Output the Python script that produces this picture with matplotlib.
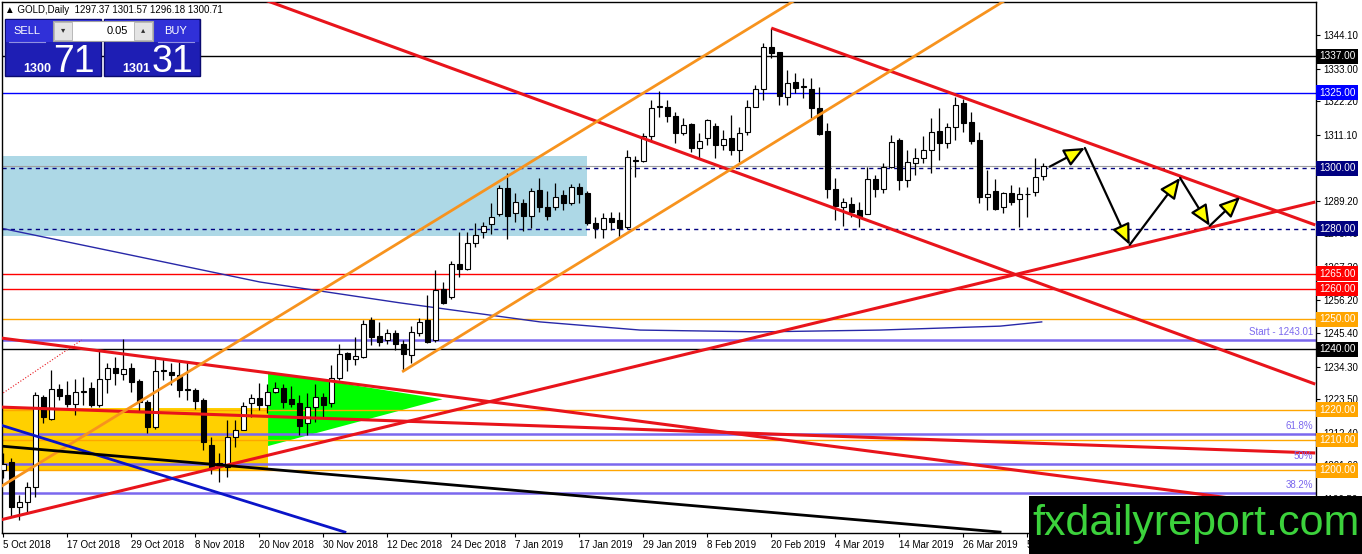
import matplotlib
matplotlib.use('Agg')
import matplotlib.pyplot as plt
import matplotlib.transforms as mtransforms
from matplotlib.patches import Rectangle, Polygon, FancyArrowPatch
import numpy as np
import pandas as pd

plt.rcParams['font.family'] = ['Liberation Sans', 'DejaVu Sans']

# ---- daily OHLC, GOLD, 5 Oct 2018 .. 9 Apr 2019 ----
opens = [1200.0, 1202.6, 1187.9, 1189.6, 1194.5, 1224.3, 1216.9, 1226.9, 1224.9, 1221.9,
         1226.0, 1227.1, 1221.6, 1230.1, 1234.0, 1231.8, 1234.0, 1229.5, 1222.7, 1214.4,
         1232.9, 1232.6, 1231.5, 1226.7, 1226.5, 1223.2, 1208.3, 1202.0, 1201.1, 1211.1,
         1213.3, 1222.3, 1223.8, 1221.6, 1225.8, 1227.1, 1223.6, 1222.1, 1215.5, 1220.8,
         1224.1, 1222.3, 1230.4, 1238.7, 1236.8, 1237.6, 1249.7, 1244.4, 1243.1, 1245.3,
         1241.7, 1238.0, 1245.3, 1249.7, 1243.1, 1259.9, 1257.2, 1268.2, 1266.6, 1275.1,
         1278.8, 1281.4, 1284.7, 1293.3, 1285.0, 1288.4, 1284.3, 1292.8, 1287.1, 1287.3,
         1291.1, 1288.6, 1293.7, 1291.9, 1281.8, 1279.9, 1283.6, 1282.9, 1280.4, 1302.4,
         1302.4, 1310.5, 1320.4, 1320.4, 1317.4, 1311.6, 1314.5, 1306.6, 1309.9, 1314.0,
         1307.7, 1310.0, 1306.1, 1311.9, 1320.4, 1326.1, 1340.0, 1338.4, 1323.5, 1328.5,
         1327.0, 1326.1, 1319.8, 1312.3, 1293.0, 1287.0, 1288.0, 1286.1, 1284.7, 1296.3,
         1293.0, 1300.3, 1309.3, 1296.1, 1301.7, 1303.3, 1306.0, 1312.3, 1308.4, 1313.7,
         1321.7, 1315.4, 1309.3, 1290.4, 1292.4, 1287.3, 1291.7, 1289.7, 1291.5, 1292.2,
         1297.37]
highs = [1205.6, 1203.9, 1191.8, 1196.2, 1226.0, 1224.9, 1233.2, 1228.7, 1229.5, 1230.1,
         1231.0, 1229.3, 1239.8, 1235.4, 1237.6, 1243.3, 1235.4, 1230.1, 1223.2, 1237.6,
         1237.0, 1235.4, 1235.9, 1235.9, 1227.1, 1223.8, 1211.1, 1205.6, 1216.6, 1216.6,
         1222.7, 1225.2, 1229.0, 1228.7, 1229.3, 1228.5, 1228.0, 1224.9, 1225.4, 1228.7,
         1225.4, 1234.8, 1241.7, 1239.2, 1244.2, 1249.7, 1250.8, 1249.2, 1246.9, 1246.4,
         1243.1, 1247.8, 1250.3, 1258.0, 1266.3, 1262.4, 1269.3, 1279.0, 1279.0, 1281.7,
         1282.1, 1288.4, 1294.4, 1298.3, 1291.7, 1289.7, 1293.3, 1296.7, 1292.3, 1295.0,
         1292.8, 1294.8, 1295.0, 1292.3, 1283.9, 1285.3, 1285.6, 1285.6, 1306.0, 1304.1,
         1311.6, 1322.6, 1325.7, 1322.6, 1318.7, 1316.5, 1314.9, 1311.6, 1316.2, 1314.9,
         1312.7, 1317.6, 1313.8, 1322.6, 1327.6, 1341.4, 1346.3, 1338.6, 1332.5, 1331.4,
         1329.8, 1330.0, 1327.0, 1314.9, 1296.6, 1290.0, 1290.6, 1288.9, 1300.3, 1297.7,
         1301.8, 1311.0, 1309.9, 1306.0, 1306.6, 1310.7, 1316.5, 1319.8, 1315.1, 1323.7,
         1322.8, 1318.7, 1312.1, 1299.4, 1296.3, 1292.2, 1294.4, 1293.9, 1293.7, 1303.3,
         1301.57]
lows = [1197.3, 1184.6, 1183.5, 1186.2, 1191.2, 1215.7, 1216.6, 1223.2, 1221.0, 1218.3,
        1221.6, 1221.0, 1221.0, 1225.4, 1228.2, 1229.8, 1226.0, 1219.4, 1212.2, 1213.8,
        1229.8, 1228.2, 1224.3, 1223.2, 1220.1, 1206.7, 1198.9, 1196.2, 1197.8, 1207.8,
        1213.3, 1217.5, 1219.9, 1219.0, 1225.5, 1220.5, 1221.0, 1211.5, 1211.8, 1216.0,
        1217.7, 1221.0, 1230.0, 1232.9, 1234.8, 1237.0, 1241.4, 1241.2, 1241.7, 1239.8,
        1232.9, 1235.6, 1244.5, 1242.0, 1242.5, 1255.0, 1256.6, 1263.9, 1266.3, 1274.0,
        1277.0, 1278.2, 1284.3, 1276.4, 1282.3, 1279.2, 1280.1, 1285.6, 1282.9, 1286.2,
        1286.2, 1287.8, 1288.4, 1281.2, 1276.8, 1276.8, 1279.6, 1276.8, 1279.8, 1297.2,
        1302.2, 1308.8, 1317.1, 1315.4, 1308.3, 1311.0, 1305.3, 1303.3, 1307.7, 1303.3,
        1306.0, 1304.4, 1301.9, 1311.0, 1320.2, 1322.6, 1336.4, 1321.0, 1321.0, 1324.8,
        1323.2, 1316.5, 1311.0, 1290.0, 1282.8, 1281.0, 1283.9, 1280.6, 1284.7, 1290.4,
        1291.7, 1300.0, 1292.8, 1293.7, 1297.7, 1301.8, 1298.3, 1302.7, 1306.6, 1309.3,
        1312.1, 1307.9, 1288.4, 1286.2, 1286.2, 1285.1, 1287.8, 1280.6, 1284.0, 1290.8,
        1296.18]
closes = [1202.2, 1187.9, 1189.6, 1194.5, 1224.9, 1217.7, 1226.8, 1224.7, 1221.9, 1225.9,
          1226.2, 1221.6, 1230.1, 1234.0, 1232.1, 1233.4, 1229.1, 1222.7, 1214.4, 1232.9,
          1233.2, 1231.5, 1226.5, 1226.9, 1223.0, 1209.4, 1200.6, 1202.3, 1210.9, 1213.3,
          1221.2, 1223.8, 1221.6, 1225.8, 1227.1, 1222.7, 1221.9, 1214.5, 1220.8, 1224.1,
          1221.6, 1230.4, 1238.4, 1236.8, 1237.8, 1248.4, 1244.2, 1242.5, 1245.3, 1241.7,
          1238.4, 1245.6, 1249.2, 1242.5, 1259.7, 1255.5, 1268.2, 1266.6, 1275.3, 1277.9,
          1281.0, 1283.9, 1293.3, 1284.3, 1288.7, 1284.3, 1292.4, 1287.3, 1284.3, 1290.6,
          1288.4, 1293.7, 1291.4, 1281.8, 1280.1, 1283.4, 1282.3, 1280.1, 1303.8, 1302.6,
          1310.5, 1319.8, 1320.6, 1317.4, 1311.6, 1314.3, 1306.6, 1309.1, 1316.0, 1307.7,
          1309.6, 1306.1, 1311.6, 1320.2, 1326.1, 1340.0, 1338.3, 1323.9, 1328.1, 1326.5,
          1327.2, 1319.8, 1311.2, 1293.0, 1287.5, 1288.9, 1285.6, 1283.7, 1296.3, 1293.0,
          1300.5, 1308.8, 1296.1, 1302.2, 1303.3, 1306.0, 1312.1, 1308.4, 1313.7, 1320.9,
          1315.1, 1309.0, 1290.4, 1291.5, 1286.5, 1291.7, 1288.9, 1291.3, 1291.6, 1297.2,
          1300.71]

# trading days (broker has no bar on 25 Dec and 1 Jan)
days = pd.bdate_range('2018-10-05', '2019-04-09')
days = [d for d in days if (d.month, d.day) not in [(12, 25), (1, 1)]]

# horizontal levels with price tags
levels = [1337.00, 1325.00, 1300.00, 1280.00, 1265.00, 1260.00, 1250.00, 1240.00, 1220.00, 1210.00, 1200.00]
level_colors = ['#000000', '#0000FF', '#000080', '#000080', '#FF0000', '#FF0000',
                '#FFA500', '#000000', '#FFA500', '#FFA500', '#FFA500']
level_styles = ['-', '-', '--', '--', '-', '-', '-', '-', '-', '-', '-']

fib_names = ['61.8%', '50%', '38.2%']
fib_prices = [1212.0, 1202.2, 1192.3]
start_price = 1243.01
bid = 1300.71

yticks = [1344.10, 1333.00, 1322.20, 1311.10, 1300.00, 1289.20, 1278.40, 1267.30,
          1256.20, 1245.40, 1234.30, 1223.50, 1212.40, 1201.60, 1190.50]

# trendlines: (bar0, price0, bar1, price1)
red_lines = [(32.7, 1355.7, 164.0, 1228.5),
             (96.0, 1346.4, 164.0, 1281.2),
             (-0.4, 1183.5, 164.0, 1288.8),
             (-0.4, 1243.8, 164.0, 1187.1),
             (-0.4, 1220.9, 164.0, 1205.7)]
orange_lines = [(-0.4, 1194.4, 99.0, 1355.7),
                (50.0, 1232.8, 125.3, 1355.7)]
blue_line = (-0.4, 1215.0, 42.7, 1179.5)
black_line = (-0.4, 1208.0, 124.6, 1179.5)
dotted_line = (0.0, 1225.6, 9.8, 1243.1)

# slow moving average (sampled)
ma_bars = [-0.4, 15.8, 32.1, 49.6, 67.1, 79.6, 94.6, 109.6, 124.6, 129.8]
ma_vals = [1280.2, 1271.3, 1262.3, 1255.4, 1249.1, 1246.4, 1245.8, 1246.4, 1247.7, 1249.1]

# zones
blue_zone = (-1.0, 72.96, 1277.7, 1304.0)
yellow_zone = (-1.0, 33.1, 1199.7, 1220.7)
green_tri_bars = [33.1, 33.1, 54.9]
green_tri_prices = [1232.6, 1208.0, 1223.5]

# projected path
path_bars = [130.8, 135.2, 140.8, 147.1, 150.8, 154.6]
path_prices = [1300.5, 1306.7, 1274.6, 1296.8, 1280.9, 1290.5]

W, H = 1362, 554
fig = plt.figure(figsize=(W / 100, H / 100), dpi=100)
ax = fig.add_axes([2 / W, (H - 533) / H, 1314 / W, 531 / H])
ax.set_xlim(-0.16, 164.09)
ax.set_ylim(1179.2, 1355.03)

# zones
ax.add_patch(Rectangle((blue_zone[0], blue_zone[2]), blue_zone[1] - blue_zone[0],
                       blue_zone[3] - blue_zone[2], fc='#ADD8E6', ec='none', zorder=1))
ax.add_patch(Rectangle((yellow_zone[0], yellow_zone[2]), yellow_zone[1] - yellow_zone[0],
                       yellow_zone[3] - yellow_zone[2], fc='#FFD000', ec='none', zorder=1))
ax.add_patch(Polygon(list(zip(green_tri_bars, green_tri_prices)), closed=True,
                     fc='#00FF00', ec='none', zorder=1))

# levels
for p, c, s in zip(levels, level_colors, level_styles):
    ax.axhline(p, color=c, ls=s, lw=1, zorder=2, dashes=(3, 3) if s == '--' else (None, None))
ax.axhline(bid, color='#A0A0A0', lw=0.8, zorder=2)
ax.axhline(start_price, color='#7B68EE', lw=1.8, zorder=2)
for p in fib_prices:
    ax.axhline(p, color='#7B68EE', lw=1.8, zorder=2)
ax.plot(ma_bars, ma_vals, color='#2828A8', lw=1, zorder=2)

# candles
x = np.arange(len(opens))
o = np.array(opens); c = np.array(closes)
ax.vlines(x, lows, highs, color='black', lw=0.9, zorder=3)
up = c >= o
ax.bar(x, np.maximum(np.abs(c - o), 0.05), bottom=np.minimum(o, c), width=0.64,
       color=np.where(up, 'white', 'black'), edgecolor='black', lw=0.8, zorder=3)

# trendlines
for x0, p0, x1, p1 in red_lines:
    ax.plot([x0, x1], [p0, p1], color='#E8141B', lw=2.2, zorder=4, solid_capstyle='butt')
for x0, p0, x1, p1 in orange_lines:
    ax.plot([x0, x1], [p0, p1], color='#F7931E', lw=2, zorder=4)
ax.plot(blue_line[::2], blue_line[1::2], color='#0A14C8', lw=2, zorder=4)
ax.plot(black_line[::2], black_line[1::2], color='black', lw=2, zorder=4)
ax.plot(dotted_line[::2], dotted_line[1::2], color='#E8141B', lw=0.8, ls=':', zorder=4)

# projection arrows
for i in range(len(path_bars) - 1):
    ax.add_patch(FancyArrowPatch((path_bars[i], path_prices[i]), (path_bars[i + 1], path_prices[i + 1]),
                                 arrowstyle='-|>,head_length=0.9,head_width=0.4', mutation_scale=14,
                                 fc='#FFFF00', ec='black', lw=1.6, zorder=5, shrinkA=0, shrinkB=0))

# axes style
for sp in ax.spines.values():
    sp.set_color('black')
    sp.set_linewidth(1)
ax.yaxis.tick_right()
ax.set_yticks(yticks)
# the 1300.00 tick label sits fully under its price tag
ax.set_yticklabels(['' if v == 1300.0 else '%.2f' % v for v in yticks])
ax.set_xticks(x[::8])
ax.set_xticklabels(['%d %s' % (d.day, d.strftime('%b %Y')) for d in days[::8]])
ax.tick_params(axis='both', direction='out', length=3, width=0.8, labelsize=7, pad=2)
for lab in ax.get_xticklabels():
    lab.set_ha('left')

# price tags
tr = mtransforms.blended_transform_factory(ax.transAxes, ax.transData)
for p, col in zip(levels, level_colors):
    ax.text(1.0022, p, '%.2f' % p, transform=tr, color='white', fontsize=7.2, va='center', ha='left',
            clip_on=False, zorder=6,
            bbox=dict(boxstyle='square,pad=0.24', fc=col, ec='none'))
ax.text(0.998, start_price + 1.2, 'Start - %.2f' % start_price, transform=tr, color='#7B68EE',
        fontsize=7, ha='right', va='bottom', zorder=6)
for n, p in zip(fib_names, fib_prices):
    ax.text(0.998, p + 1.0, n, transform=tr, color='#7B68EE', fontsize=7, ha='right', va='bottom', zorder=6)

# overlay: trading panel and logo (pixel coordinates)
ov = fig.add_axes([0, 0, 1, 1], zorder=10)
ov.set_xlim(0, W)
ov.set_ylim(H, 0)
ov.axis('off')
ov.text(5, 10, '\u25B2 GOLD,Daily  1297.37 1301.57 1296.18 1300.71', fontsize=7, va='center', ha='left')

for bx, label, big, small in [(5, 'SELL', '71', '1300'), (104, 'BUY', '31', '1301')]:
    ov.add_patch(Rectangle((bx, 19), 96, 57, fc='#1E1EB4', ec='#0A0A70', lw=1))
    ov.add_patch(Rectangle((bx + 1, 20), 94, 22, fc='#3030D8', ec='none'))
    lx = bx + 22 if label == 'SELL' else bx + 72
    ov.text(lx, 31, label, color='white', fontsize=8, ha='center', va='center')
    ov.plot([lx - 18, lx + 18], [42, 42], color='#9090E0', lw=0.8)
    ov.text(bx + 46, 72, small, color='white', fontsize=9, ha='right', va='baseline', fontweight='bold')
    ov.text(bx + 48, 72.5, big, color='white', fontsize=27, ha='left', va='baseline')
ov.add_patch(Rectangle((53, 21), 100, 20, fc='white', ec='#A0A0A0', lw=0.8))
ov.add_patch(Rectangle((54, 22), 18, 18, fc='#E4E4E4', ec='#B0B0B0', lw=0.6))
ov.add_patch(Rectangle((134, 22), 18, 18, fc='#E4E4E4', ec='#B0B0B0', lw=0.6))
ov.text(63, 31, '\u25BE', fontsize=6, ha='center', va='center', color='#303030')
ov.text(143, 31, '\u25B4', fontsize=6, ha='center', va='center', color='#303030')
ov.text(128, 31, '0.05', fontsize=8, ha='right', va='center')

ov.add_patch(Rectangle((1029, 496), W - 1029, H - 496, fc='black', ec='none'))
ov.text(1196, 524, 'fxdailyreport.com', color='#3CD23C', fontsize=31, ha='center', va='center',
        family=['Liberation Sans Narrow', 'Liberation Sans', 'DejaVu Sans'])

fig.savefig('out.png', dpi=100)
